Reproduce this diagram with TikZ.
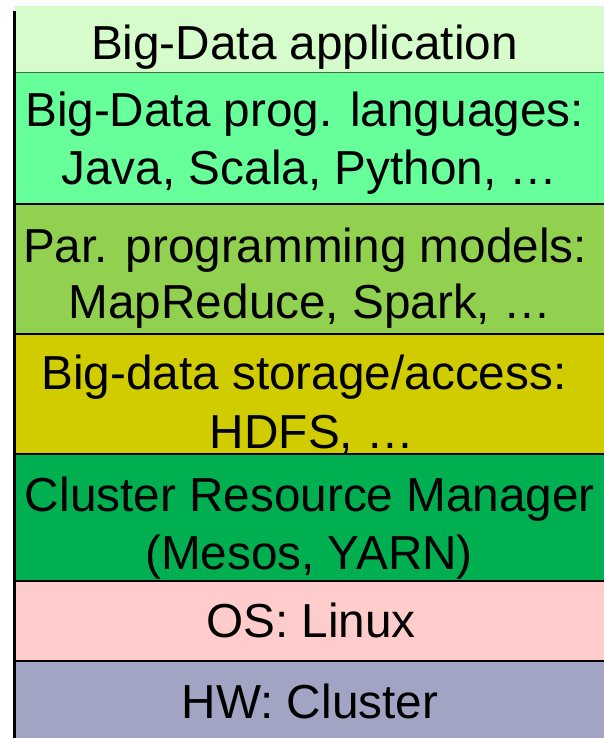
\documentclass[tikz,border=0pt]{standalone}
\usepackage{fontspec}
\setmainfont{Liberation Sans}
\definecolor{cApp}{RGB}{214,252,204}
\definecolor{cLang}{RGB}{102,255,153}
\definecolor{cPar}{RGB}{146,208,80}
\definecolor{cStore}{RGB}{208,204,0}
\definecolor{cClu}{RGB}{0,176,80}
\definecolor{cOS}{RGB}{255,204,204}
\definecolor{cHW}{RGB}{162,164,196}
\definecolor{cThin}{RGB}{70,110,70}
\begin{document}
\begin{tikzpicture}[x=1pt,y=-1pt,
  txt/.style={anchor=base,inner sep=0pt,font=\fontsize{47.7}{56}\selectfont,text=black},
  sep/.style={line width=2.6pt,black},
  border/.style={line width=3pt,black}]
\useasboundingbox (0,0) rectangle (604,738);
% layers
\fill[cApp]   (14,6)   rectangle (604,72.5);
\fill[cLang]  (14,72.5) rectangle (604,204);
\fill[cPar]   (14,204) rectangle (604,334);
\fill[cStore] (14,334) rectangle (604,454);
\fill[cClu]   (14,454) rectangle (604,581);
\fill[cOS]    (14,581) rectangle (604,661);
\fill[cHW]    (14,661) rectangle (604,738);
% separators
\draw[cThin,line width=1.2pt] (14,72.5) -- (604,72.5);
\draw[sep] (14,204) -- (604,204);
\draw[sep] (14,334) -- (604,334);
\draw[sep] (14,454) -- (604,454);
\draw[sep] (14,581) -- (604,581);
\draw[sep] (14,661) -- (604,661);
\draw[border] (14.2,11) -- (14.2,738);
% texts
\node[txt] (t1)  at (304.5,60)  {Big-Data application};
\node[txt] (t2a) at (304.5,127) {Big-Data prog. languages:};
\node[txt] (t2b) at (309.5,185) {Java, Scala, Python, …};
\node[txt] (t3a) at (305,262)   {Par. programming models:};
\node[txt] (t3b) at (310,318)   {MapReduce, Spark, …};
\node[txt] (t4a) at (304,389)   {Big-data storage/access:};
\node[txt] (t4b) at (312,448)   {HDFS, …};
\node[txt] (t5a) at (310,511)   {Cluster Resource Manager};
\node[txt] (t5b) at (309,569)   {(Mesos, YARN)};
\node[txt] (t6)  at (311,637)   {OS: Linux};
\node[txt] (t7)  at (310,718)   {HW: Cluster};
\end{tikzpicture}
\end{document}
